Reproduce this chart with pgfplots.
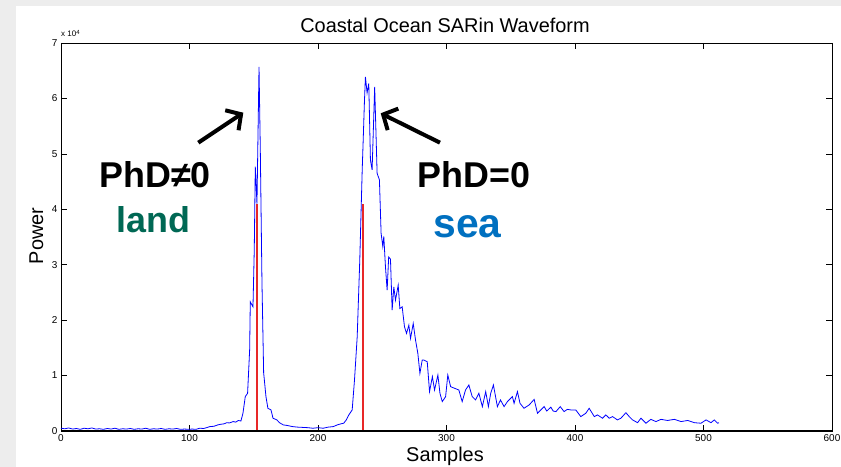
\documentclass[border=0pt]{standalone}
\usepackage{fontspec}
\setmainfont{Liberation Sans}
\usepackage{pgfplots}
\pgfplotsset{compat=1.18}
\usetikzlibrary{arrows.meta}
\definecolor{landgreen}{RGB}{0,104,84}
\definecolor{seablue}{RGB}{0,112,192}
\definecolor{redline}{RGB}{232,40,40}
\begin{document}
\begin{tikzpicture}[x=1bp,y=1bp]
\fill[black!7] (0,0) rectangle (841,467);
\fill[white] (16,0) rectangle (841,461);
\path[use as bounding box] (0,0) rectangle (841,467);
\begin{axis}[at={(61bp,36bp)}, anchor=south west, scale only axis,
  width=771bp, height=388bp,
  xmin=0, xmax=600, ymin=0, ymax=70000,
  xtick={0,100,...,600}, ytick={0,10000,20000,30000,40000,50000,60000,70000},
  yticklabels={0,1,2,3,4,5,6,7}, scaled y ticks=false,
  tick align=inside, major tick length=6bp,
  tick style={black, line width=0.7bp},
  axis line style={line width=0.9bp},
  ticklabel style={font=\fontsize{10}{12}\selectfont},
  /pgf/number format/assume math mode=true,
  /pgf/number format/1000 sep={},
  clip=false]
\addplot[blue, line width=0.8bp] coordinates {
(0,500) (3,400) (6,550) (9,350) (12,450) (15,300) (18,500) (21,400) (24,550) (27,350)
(30,400) (33,300) (36,450) (39,350) (42,500) (45,300) (48,400) (51,350) (54,450) (57,300)
(60,400) (63,350) (66,500) (69,300) (72,400) (75,350) (78,450) (81,300) (84,400) (87,350)
(90,450) (93,300) (96,350) (100,300) (102,350) (105,300) (108,500) (111,450) (114,650)
(116,800) (119,850) (122,1100) (124,1200) (127,1300) (129,1500) (131,1450) (134,1700)
(136,1600) (138,1900) (140,1800) (141.6,3200) (143.4,6200) (145.2,6800) (146.8,14600)
(147.3,23300) (149.4,22400) (150.4,32700) (151.2,47700) (152.5,41000) (154.1,65700)
(155.1,50700) (156.4,26700) (157.7,10500) (159.5,6200) (161,4100) (163.4,3800) (165,2300)
(168,2000) (170,1500) (173,1100) (176,1000) (180,800) (184,700) (188,650) (192,600)
(196,500) (200,600) (204,500) (208,700) (212,800) (215,1100) (218,1300) (220,1400)
(222,2000) (224,2900) (226.6,3800) (228.4,9200) (230.5,17000) (232.5,30800) (234.4,47100)
(235.1,52000) (236.1,59200) (236.9,63900) (238.2,61000) (239.5,62700) (240.8,48900)
(242.1,47100) (244.1,62100) (246,46500) (247.8,45300) (249.1,35700) (250.4,33300)
(251.2,35100) (252.5,29600) (253.8,25400) (255,31400) (256.4,31000) (257.7,21800)
(259,26000) (260.3,23600) (262.4,26300) (263.7,22100) (265.5,22400) (267.3,18800)
(268.9,17600) (270.7,19100) (272,16700) (274.1,19400) (275.9,16400) (277.7,14000)
(279.3,10400) (281.1,12800) (282.4,12800) (285,12500) (286.8,7100) (289,9800)
(290.7,7400) (293.3,10100) (294.9,6800) (296.7,5300) (299.3,6200) (301,10100)
(303.2,8000) (306.3,7700) (309.6,7400) (312.2,5300) (314.8,7400) (317.4,8300)
(320,6200) (322.6,5600) (325.2,6800) (327.9,4400) (330.5,7100) (332.6,4400)
(334.4,6800) (336.5,8300) (339.6,4400) (342,5600) (344.8,4400) (347.4,5300)
(351.3,6200) (352.6,5000) (355.2,7100) (357.2,5000) (360.3,4100) (364.3,4700)
(368.2,5700) (370.8,3200) (373.4,3800) (376,4400) (378,3600) (381.2,4300) (383,3600)
(385.2,3500) (388.5,4400) (391.5,3500) (394,3900) (396.8,3800) (400.6,3800)
(404.5,2600) (408.4,3200) (411,4100) (415,2600) (417.5,2900) (421.4,2300) (424,2900)
(426.6,2300) (429.2,2600) (433,2000) (435.7,2300) (439.6,3300) (442.2,2600)
(444.8,2000) (448.7,1500) (451.3,2300) (455.2,1400) (459,2100) (463,1700) (466.9,2100)
(472,1900) (477.3,2100) (482.5,1700) (487.7,1900) (492.9,1500) (498,1400) (502,2000)
(505.8,1500) (508.4,2000) (511,1400) (512,1500)
};
\addplot[redline, line width=2bp] coordinates {(152.5,0) (152.5,41000)};
\addplot[redline, line width=2bp] coordinates {(235,0) (235,41000)};
\end{axis}
\draw[line width=2bp] (61,36) -- (832,36);
\node[anchor=base west, font=\fontsize{8}{9}\selectfont, inner sep=0pt] at (61,430) {x 10\textsuperscript{4}};
\node[anchor=base, font=\fontsize{20}{24}\selectfont, inner sep=0pt] at (445,434) {Coastal Ocean SARin Waveform};
\node[anchor=base, font=\fontsize{20}{24}\selectfont, inner sep=0pt] at (445,5) {Samples};
\node[rotate=90, anchor=base, font=\fontsize{20}{24}\selectfont, inner sep=0pt] at (43,231) {Power};
\node[anchor=base, font=\bfseries\fontsize{36}{40}\selectfont, inner sep=0pt] at (155,279) {PhD≠0};
\node[anchor=base, font=\bfseries\fontsize{36}{40}\selectfont, inner sep=0pt, text=landgreen] at (153.3,234) {land};
\node[anchor=base, font=\bfseries\fontsize{36}{40}\selectfont, inner sep=0pt] at (474.2,279) {PhD=0};
\node[anchor=base, font=\bfseries\fontsize{41}{46}\selectfont, inner sep=0pt, text=seablue] at (467.5,229.7) {sea};
\draw[line width=4bp, -{Straight Barb[length=11bp,width=24bp]}] (198.3,324.3) -- (243.3,354.3);
\draw[line width=4bp, -{Straight Barb[length=11bp,width=24bp]}] (440,324.3) -- (380.7,353.7);
\end{tikzpicture}
\end{document}
